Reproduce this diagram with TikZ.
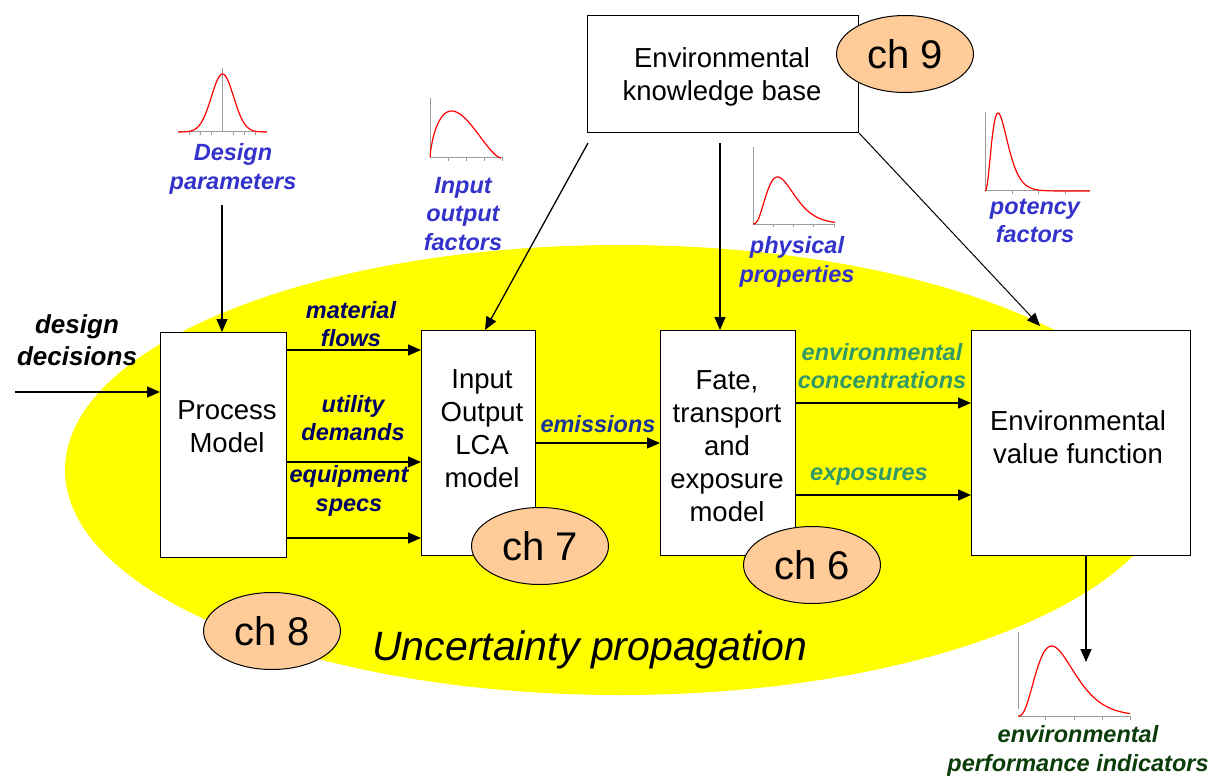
\documentclass[tikz,border=0pt]{standalone}
\usepackage{fontspec}
\setmainfont{Liberation Sans}
\usetikzlibrary{arrows.meta,shapes.geometric}
\definecolor{uyellow}{HTML}{FFFF00}
\definecolor{chfill}{HTML}{FFCC99}
\definecolor{inblue}{HTML}{3333CC}
\definecolor{flownavy}{HTML}{000066}
\definecolor{emblue}{HTML}{1A3399}
\definecolor{outteal}{HTML}{339966}
\definecolor{epigreen}{HTML}{0A3D0A}
\definecolor{axisgray}{HTML}{9A9A9A}
\begin{document}
\begin{tikzpicture}[x=1pt,y=-1pt,
  box/.style={draw=black, line width=1.1pt, fill=white, inner sep=0, anchor=north west},
  boxtext/.style={font=\fontsize{27.5}{33}\selectfont, align=center, inner sep=0},
  lbl/.style={font=\fontsize{23.5}{28.5}\selectfont\bfseries\itshape, align=center, inner sep=0},
  chap/.style={ellipse, draw=black, line width=1pt, fill=chfill, minimum width=137pt, minimum height=77pt, inner sep=0, font=\fontsize{40}{42}\selectfont},
  arr/.style={line width=1.3pt, -{Triangle[length=13pt,width=11pt]}},
  axis/.style={draw=axisgray, line width=1pt},
  curve/.style={draw=red, line width=1.2pt}
]
\useasboundingbox (0,0) rectangle (1225,778);

% uncertainty region
\fill[uyellow] (620,470) ellipse [x radius=555pt, y radius=225pt];
\node[font=\fontsize{41}{48}\selectfont\itshape, inner sep=0] (unc) at (590,650) {Uncertainty propagation};

% small distribution sketches (gamma shapes written as exp(k ln r + k - k r), clamped)
% normal: design parameters
\draw[axis] (222,68) -- (222,132);
\draw[axis] (178,132) -- (267,132);
\foreach \t in {189,200,211,233,244,255} \draw[axis] (\t,132) -- (\t,135);
\draw[curve] plot[domain=0:1, samples=90, smooth] ({178+89*\x},{132-58*exp(max(-15,-((\x-0.5)/0.125)^2/2))});
% beta: input output factors
\draw[axis] (430,98) -- (430,158);
\draw[axis] (430,158) -- (503,158);
\foreach \t in {448,466,484,502} \draw[axis] (\t,158) -- (\t,161);
\draw[curve] plot[domain=0.0005:0.9995, samples=90, smooth] ({430+71*\x},{158-47*exp(0.7*ln(\x/0.3077)+1.6*ln((1-\x)/0.6923))});
% gamma: physical properties
\draw[axis] (753,147) -- (753,224);
\draw[axis] (753,224) -- (835,224);
\foreach \t in {773,793,813,834} \draw[axis] (\t,224) -- (\t,227);
\draw[curve] plot[domain=0.001:1, samples=90, smooth] ({753+82*\x},{224-47*exp(max(-15,3*ln(\x/0.3)+3-3*\x/0.3))});
% skewed: potency factors
\draw[axis] (985,112) -- (985,191);
\draw[axis] (985,191) -- (1090,191);
\foreach \t in {1012,1038,1065} \draw[axis] (\t,191) -- (\t,194);
\draw[curve] plot[domain=0.001:1, samples=120, smooth] ({985+105*\x},{191-78*exp(max(-15,2.6*ln(\x/0.124)+2.6-2.6*\x/0.124))});
% gamma: performance indicators
\draw[axis] (1018,632) -- (1018,709);
\draw[axis] (1018,716) -- (1130,716);
\foreach \t in {1045,1074,1102,1130} \draw[axis] (\t,716) -- (\t,720);
\draw[curve] plot[domain=0.001:1, samples=90, smooth] ({1018+112*\x},{716-70*exp(max(-15,3*ln(\x/0.3)+3-3*\x/0.3))});

% boxes
\node[box, minimum width=271pt, minimum height=117pt] (kb) at (587,15) {};
\node[boxtext] (kbt) at (722,77) {Environmental\\knowledge base};
\node[box, minimum width=126pt, minimum height=225pt] (pm) at (160,332) {};
\node[boxtext] (pmt) at (227,427) {Process\\Model};
\node[box, minimum width=114pt, minimum height=225pt] (io) at (421,330) {};
\node[boxtext] (iot) at (482,429) {Input\\Output\\LCA\\model};
\node[box, minimum width=135pt, minimum height=225pt] (fate) at (660,330) {};
\node[boxtext] (fatet) at (727,446) {Fate,\\transport\\and\\exposure\\model};
\node[box, minimum width=219pt, minimum height=225pt] (evf) at (971,330) {};
\node[boxtext] (evft) at (1078,437) {Environmental\\value function};

% labels
\node[lbl, text=inblue] (dp) at (233,169) {Design\\parameters};
\node[lbl, text=inblue] (iof) at (463,214) {Input\\output\\factors};
\node[lbl, text=inblue] (pp) at (797,262) {physical\\properties};
\node[lbl, text=inblue] (pf) at (1035,221) {potency\\factors};
\node[lbl, text=flownavy] (mf) at (351,324) {material\\flows};
\node[lbl, text=flownavy] (ud) at (353,418) {utility\\demands};
\node[lbl, text=flownavy] (es) at (349,491) {equipment\\specs};
\node[lbl, text=emblue] (em) at (598,424) {emissions};
\node[lbl, text=outteal] (ec) at (882,366) {environmental\\concentrations};
\node[lbl, text=outteal] (ex) at (869,477) {exposures};
\node[font=\fontsize{26}{32}\selectfont\bfseries\itshape, align=center, inner sep=0] (dd) at (77,340) {design\\decisions};
\node[lbl, text=epigreen] (epi) at (1078,751) {environmental\\performance indicators};

% connector end points
\coordinate (ddstart) at (15,392);
\coordinate (yflow1) at (0,350);
\coordinate (yflow2) at (0,462);
\coordinate (yflow3) at (0,538);
\coordinate (yem) at (0,443);
\coordinate (yconc) at (0,403);
\coordinate (yexp) at (0,495);
\coordinate (kbleft) at (588,143);
\coordinate (kbmid) at (720,143);
\coordinate (ioin) at (485,330);
\coordinate (evfin) at (1040,326);
\coordinate (dpstart) at (222,205);
\coordinate (evfout) at (1086,555);
\coordinate (epitip) at (1086,662);

% connectors
\draw[arr] (ddstart) -- (pm.west |- ddstart);
\draw[arr] (dpstart) -- (dpstart |- pm.north);
\draw[arr] (pm.east |- yflow1) -- (io.west |- yflow1);
\draw[arr] (pm.east |- yflow2) -- (io.west |- yflow2);
\draw[arr] (pm.east |- yflow3) -- (io.west |- yflow3);
\draw[arr] (io.east |- yem) -- (fate.west |- yem);
\draw[arr] (fate.east |- yconc) -- (evf.west |- yconc);
\draw[arr] (fate.east |- yexp) -- (evf.west |- yexp);
\draw[arr] (kbleft) -- (ioin);
\draw[arr] (kbmid) -- (kbmid |- fate.north);
\draw[arr, line width=1pt] (kb.south east) -- (evfin);
\draw[arr] (evfout) -- (epitip);

% chapter tags
\node[chap] (ch9) at (905,54) {ch 9};
\node[chap] (ch7) at (540,546) {ch 7};
\node[chap] (ch6) at (812,565) {ch 6};
\node[chap] (ch8) at (272,631) {ch 8};
\end{tikzpicture}
\end{document}
